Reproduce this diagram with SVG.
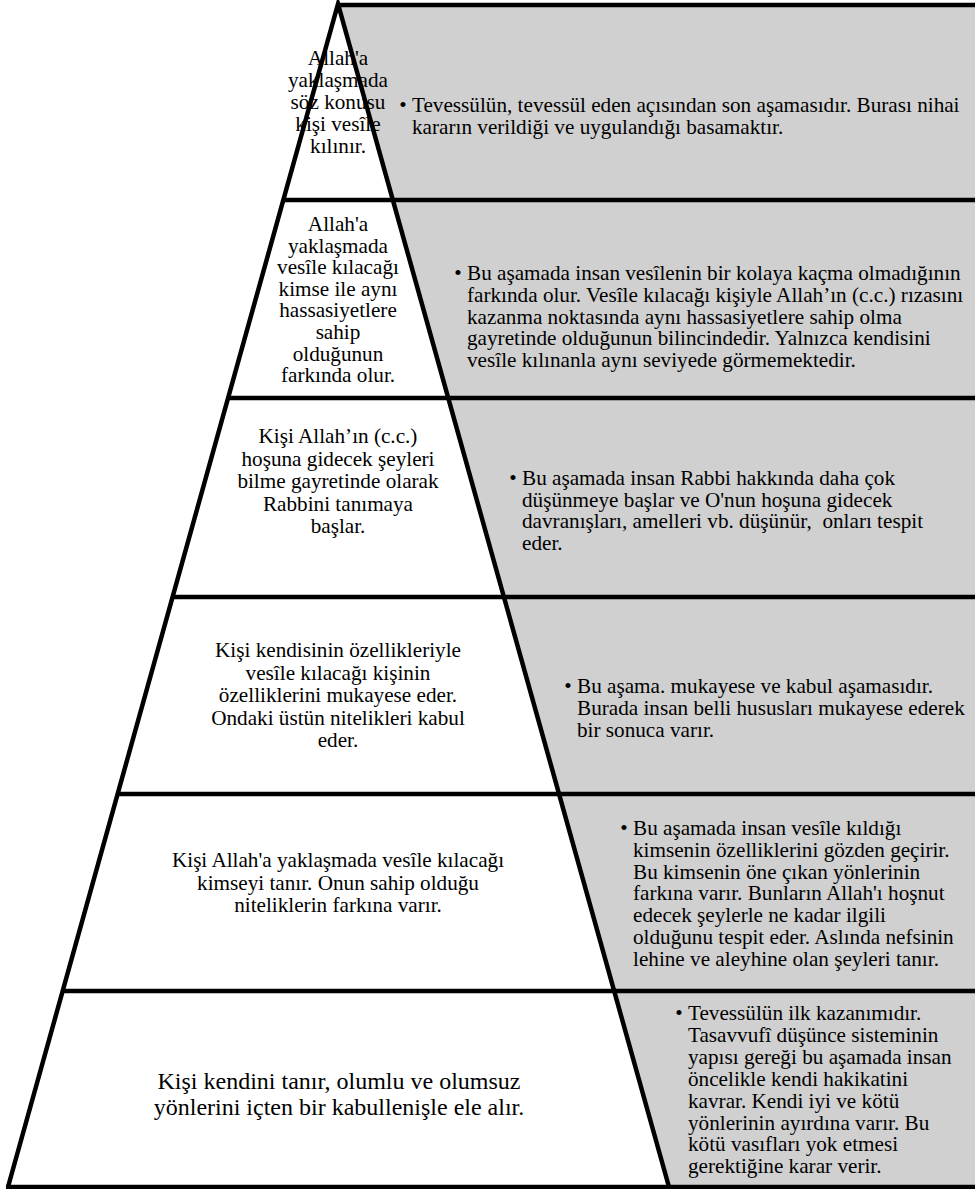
<svg xmlns="http://www.w3.org/2000/svg" width="975" height="1189" viewBox="0 0 975 1189">
<style>
.t{font-family:"Liberation Serif","Times New Roman",serif;font-size:21.2px;fill:#000}
.c{text-anchor:middle}
.big{font-size:24px}
.ln{stroke:#000;stroke-width:4.5;fill:none;stroke-linejoin:miter}
</style>
<rect width="975" height="1189" fill="#fff"/>
<polygon points="338,4 975,4 975,1187 669,1187" fill="#d0d0d0"/>
<g id="connectors">
<polyline class="ln" points="8,1187 338,4 669,1187"/>
<line class="ln" x1="338" y1="5" x2="975" y2="5"/>
<line class="ln" x1="283" y1="200" x2="975" y2="200"/>
<line class="ln" x1="228" y1="398" x2="975" y2="398"/>
<line class="ln" x1="173" y1="597" x2="975" y2="597"/>
<line class="ln" x1="118" y1="794" x2="975" y2="794"/>
<line class="ln" x1="63" y1="991" x2="975" y2="991"/>
<line class="ln" x1="6" y1="1187" x2="975" y2="1187"/>
</g>
<g id="step6">
<text class="t c"><tspan x="338" y="65">Allah'a</tspan><tspan x="338" y="87">yaklaşmada</tspan><tspan x="338" y="109">söz konusu</tspan><tspan x="338" y="131">kişi vesîle</tspan><tspan x="338" y="153">kılınır.</tspan></text>
<text class="t c" x="403" y="112">•</text>
<text class="t"><tspan x="412" y="112">Tevessülün, tevessül eden açısından son aşamasıdır. Burası nihai</tspan><tspan x="412" y="133.5">kararın verildiği ve uygulandığı basamaktır.</tspan></text>
</g>
<g id="step5">
<text class="t c"><tspan x="338" y="231">Allah'a</tspan><tspan x="338" y="252.6">yaklaşmada</tspan><tspan x="338" y="274.2">vesîle kılacağı</tspan><tspan x="338" y="295.8">kimse ile aynı</tspan><tspan x="338" y="317.4">hassasiyetlere</tspan><tspan x="338" y="339">sahip</tspan><tspan x="338" y="360.6">olduğunun</tspan><tspan x="338" y="382.2">farkında olur.</tspan></text>
<text class="t c" x="458" y="280">•</text>
<text class="t"><tspan x="467" y="280">Bu aşamada insan vesîlenin bir kolaya kaçma olmadığının</tspan><tspan x="467" y="301.8">farkında olur. Vesîle kılacağı kişiyle Allah’ın (c.c.) rızasını</tspan><tspan x="467" y="323.6">kazanma noktasında aynı hassasiyetlere sahip olma</tspan><tspan x="467" y="345.4">gayretinde olduğunun bilincindedir. Yalnızca kendisini</tspan><tspan x="467" y="367.2">vesîle kılınanla aynı seviyede görmemektedir.</tspan></text>
</g>
<g id="step4">
<text class="t c"><tspan x="338" y="443">Kişi Allah’ın (c.c.)</tspan><tspan x="338" y="465.5">hoşuna gidecek şeyleri</tspan><tspan x="338" y="488">bilme gayretinde olarak</tspan><tspan x="338" y="510.5">Rabbini tanımaya</tspan><tspan x="338" y="533">başlar.</tspan></text>
<text class="t c" x="513" y="485">•</text>
<text class="t"><tspan x="522" y="485">Bu aşamada insan Rabbi hakkında daha çok</tspan><tspan x="522" y="506.7">düşünmeye başlar ve O'nun hoşuna gidecek</tspan><tspan x="522" y="528.4" xml:space="preserve">davranışları, amelleri vb. düşünür,  onları tespit</tspan><tspan x="522" y="550.1">eder.</tspan></text>
</g>
<g id="step3">
<text class="t c"><tspan x="338" y="657">Kişi kendisinin özellikleriyle</tspan><tspan x="338" y="679.5">vesîle kılacağı kişinin</tspan><tspan x="338" y="702">özelliklerini mukayese eder.</tspan><tspan x="338" y="724.5">Ondaki üstün nitelikleri kabul</tspan><tspan x="338" y="747">eder.</tspan></text>
<text class="t c" x="568" y="693">•</text>
<text class="t"><tspan x="577" y="693">Bu aşama. mukayese ve kabul aşamasıdır.</tspan><tspan x="577" y="715">Burada insan belli hususları mukayese ederek</tspan><tspan x="577" y="737">bir sonuca varır.</tspan></text>
</g>
<g id="step2">
<text class="t c"><tspan x="338" y="867">Kişi Allah'a yaklaşmada vesîle kılacağı</tspan><tspan x="338" y="889.5">kimseyi tanır. Onun sahip olduğu</tspan><tspan x="338" y="912">niteliklerin farkına varır.</tspan></text>
<text class="t c" x="624" y="835">•</text>
<text class="t"><tspan x="633" y="835">Bu aşamada insan vesîle kıldığı</tspan><tspan x="633" y="856.8">kimsenin özelliklerini gözden geçirir.</tspan><tspan x="633" y="878.6">Bu kimsenin öne çıkan yönlerinin</tspan><tspan x="633" y="900.4">farkına varır. Bunların Allah'ı hoşnut</tspan><tspan x="633" y="922.2">edecek şeylerle ne kadar ilgili</tspan><tspan x="633" y="944">olduğunu tespit eder. Aslında nefsinin</tspan><tspan x="633" y="965.8">lehine ve aleyhine olan şeyleri tanır.</tspan></text>
</g>
<g id="step1">
<text class="t c big"><tspan x="339" y="1089">Kişi kendini tanır, olumlu ve olumsuz</tspan><tspan x="339" y="1115">yönlerini içten bir kabullenişle ele alır.</tspan></text>
<text class="t c" x="679" y="1020">•</text>
<text class="t"><tspan x="688" y="1020">Tevessülün ilk kazanımıdır.</tspan><tspan x="688" y="1041.9">Tasavvufî düşünce sisteminin</tspan><tspan x="688" y="1063.8">yapısı gereği bu aşamada insan</tspan><tspan x="688" y="1085.7">öncelikle kendi hakikatini</tspan><tspan x="688" y="1107.6">kavrar. Kendi iyi ve kötü</tspan><tspan x="688" y="1129.5">yönlerinin ayırdına varır. Bu</tspan><tspan x="688" y="1151.4">kötü vasıfları yok etmesi</tspan><tspan x="688" y="1173.3">gerektiğine karar verir.</tspan></text>
</g>
</svg>
